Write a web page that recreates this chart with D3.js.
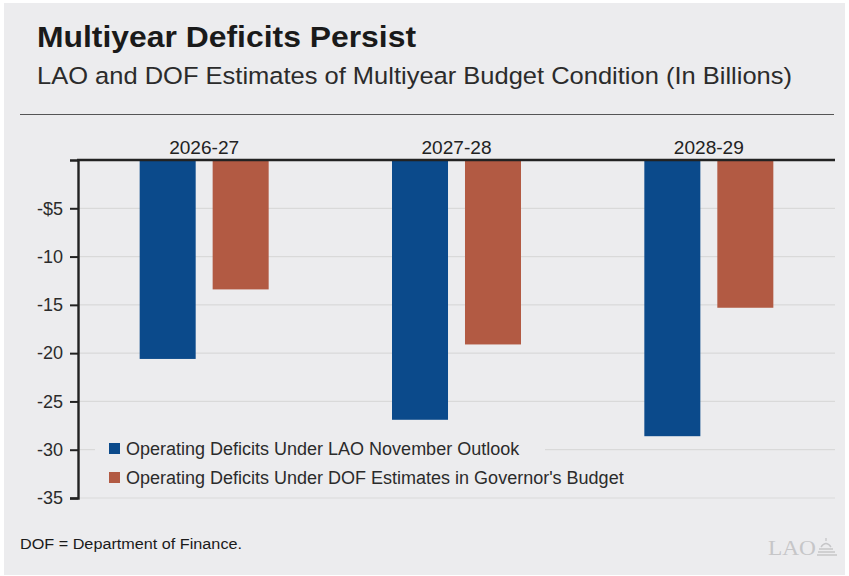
<!DOCTYPE html>
<html>
<head>
<meta charset="utf-8">
<script src="https://cdn.jsdelivr.net/npm/d3@7"></script>
<style>
  body { margin: 0; background: #ffffff; }
  text { font-family: "Liberation Sans", Arial, sans-serif; }
</style>
</head>
<body>
<div id="chart"></div>
<script>
// data
const years = ["2026-27", "2027-28", "2028-29"];
const laoValues = [-20.6, -26.9, -28.6];
const dofValues = [-13.4, -19.1, -15.3];
const yTicks = [-5, -10, -15, -20, -25, -30, -35];
const seriesNames = ["Operating Deficits Under LAO November Outlook", "Operating Deficits Under DOF Estimates in Governor's Budget"];
const seriesColors = ["#0b4a8b", "#b25a43"];

const width = 849, height = 576;
const margin = { top: 160, right: 14, bottom: 78, left: 78 };
const plotW = width - margin.left - margin.right;
const plotH = height - margin.top - margin.bottom;

const svg = d3.select("#chart").append("svg")
  .attr("width", width)
  .attr("height", height);

// panel background
svg.append("rect")
  .attr("x", 4).attr("y", 3)
  .attr("width", width - 8).attr("height", height - 4)
  .attr("fill", "#ececee");

// title block
svg.append("text")
  .attr("x", 37).attr("y", 47)
  .attr("font-size", 29).attr("font-weight", "bold")
  .attr("fill", "#1a1a1a")
  .attr("textLength", 379).attr("lengthAdjust", "spacingAndGlyphs")
  .text("Multiyear Deficits Persist");

svg.append("text")
  .attr("x", 37).attr("y", 84)
  .attr("font-size", 24.5)
  .attr("fill", "#2b2b2b")
  .attr("textLength", 755).attr("lengthAdjust", "spacingAndGlyphs")
  .text("LAO and DOF Estimates of Multiyear Budget Condition (In Billions)");

svg.append("line")
  .attr("x1", 20).attr("x2", 834)
  .attr("y1", 114.5).attr("y2", 114.5)
  .attr("stroke", "#555").attr("stroke-width", 1);

const g = svg.append("g")
  .attr("transform", "translate(" + margin.left + "," + margin.top + ")");

const x = d3.scaleBand()
  .domain(years)
  .range([0, plotW]);

const xInner = d3.scaleBand()
  .domain([0, 1])
  .range([0, 129])
  .paddingInner(15 / 129 * 2);

const y = d3.scaleLinear()
  .domain([0, -35])
  .range([0, plotH]);

// gridlines
g.selectAll(".grid")
  .data(yTicks)
  .enter().append("line")
  .attr("class", "grid")
  .attr("x1", 0).attr("x2", plotW)
  .attr("y1", d => y(d)).attr("y2", d => y(d))
  .attr("stroke", "#d9d9d9").attr("stroke-width", 1.2);

// bars
const groups = g.selectAll(".yr")
  .data(years)
  .enter().append("g")
  .attr("transform", d => "translate(" + (x(d) + x.bandwidth() / 2 - 64.5) + ",0)");

groups.selectAll("rect")
  .data((d, i) => [laoValues[i], dofValues[i]])
  .enter().append("rect")
  .attr("x", (d, i) => xInner(i))
  .attr("y", 0)
  .attr("width", xInner.bandwidth())
  .attr("height", d => y(d))
  .attr("fill", (d, i) => seriesColors[i]);

// category labels above the axis line
g.selectAll(".cat")
  .data(years)
  .enter().append("text")
  .attr("x", d => x(d) + x.bandwidth() / 2)
  .attr("y", -6)
  .attr("text-anchor", "middle")
  .attr("font-size", 17.5)
  .attr("fill", "#222")
  .attr("textLength", 70).attr("lengthAdjust", "spacingAndGlyphs")
  .text(d => d);

// y axis
const yAxis = g.append("g")
  .call(d3.axisLeft(y)
    .tickValues(yTicks)
    .tickSize(8)
    .tickPadding(7)
    .tickFormat(d => d === -5 ? "-$5" : d));
yAxis.select(".domain").attr("stroke", "#222").attr("stroke-width", 2.4);
yAxis.selectAll(".tick line").attr("stroke", "#222").attr("stroke-width", 2);
yAxis.selectAll(".tick text")
  .attr("font-size", 18)
  .attr("fill", "#2b2b2b")
  .attr("font-family", "Liberation Sans, Arial, sans-serif");

// top axis line
g.append("line")
  .attr("x1", -1).attr("x2", plotW)
  .attr("y1", 0).attr("y2", 0)
  .attr("stroke", "#222").attr("stroke-width", 2.4);

// legend
const legend = g.append("g")
  .attr("transform", "translate(" + 17 + "," + 275 + ")");

legend.append("rect")
  .attr("x", 0).attr("y", 0)
  .attr("width", 450).attr("height", 55)
  .attr("fill", "#ececee");

const items = legend.selectAll(".item")
  .data(seriesNames)
  .enter().append("g")
  .attr("transform", (d, i) => "translate(14," + (8 + i * 29) + ")");

items.append("rect")
  .attr("width", 11).attr("height", 11)
  .attr("fill", (d, i) => seriesColors[i]);

items.append("text")
  .attr("x", 17).attr("y", 11.5)
  .attr("font-size", 18)
  .attr("fill", "#2b2b2b")
  .text(d => d);

// footnote
svg.append("text")
  .attr("x", 20).attr("y", 549)
  .attr("font-size", 15.5)
  .attr("fill", "#1a1a1a")
  .attr("textLength", 222).attr("lengthAdjust", "spacingAndGlyphs")
  .text("DOF = Department of Finance.");

// LAO mark
svg.append("text")
  .attr("x", 768).attr("y", 555)
  .attr("font-size", 21)
  .style("font-family", "'Liberation Serif', 'DejaVu Serif', serif")
  .attr("fill", "#c6c6c8")
  .attr("textLength", 48).attr("lengthAdjust", "spacingAndGlyphs")
  .text("LAO");

const mark = svg.append("g")
  .attr("transform", "translate(818,538)")
  .attr("fill", "none")
  .attr("stroke", "#c6c6c8")
  .attr("stroke-width", 1.3);
mark.append("path").attr("d", "M8,0 L8,3 M3,9 Q8,2 13,9");
mark.append("path").attr("d", "M1,11 L15,11 M0,14 L17,14 M-1,17 L19,17");
</script>
</body>
</html>
